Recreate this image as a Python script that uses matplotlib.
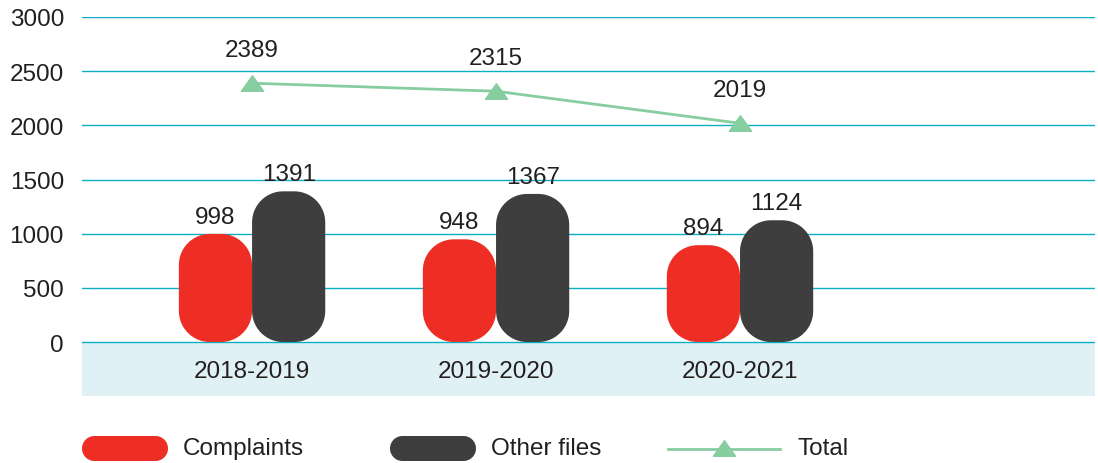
import numpy as np
import matplotlib
matplotlib.use("Agg")
import matplotlib.pyplot as plt
from matplotlib.patches import Polygon
from matplotlib.lines import Line2D
from matplotlib.path import Path

plt.rcParams["font.family"] = ["Liberation Sans", "DejaVu Sans"]

# Data
years = ["2018-2019", "2019-2020", "2020-2021"]
complaints = [998, 948, 894]
other_files = [1391, 1367, 1124]
total = [2389, 2315, 2019]
y_ticks = [0, 500, 1000, 1500, 2000, 2500, 3000]

RED = "#EE2E24"
DARK = "#3E3E3E"
GREEN = "#86CDA0"
GRID = "#0AAFC2"
BAND = "#E0F1F5"
TEXT = "#231F20"
FS = 17.5

W, H = 1098, 464
fig = plt.figure(figsize=(W / 100, H / 100), dpi=100)
ax = fig.add_axes([82 / W, 1 - 397.2 / H, (1095 - 82) / W, (397.2 - 18) / H])
ax.set_xlim(-0.697, 3.455)
ax.set_ylim(-500, 3000)
for s in ax.spines.values():
    s.set_visible(False)

# band under the zero line and horizontal grid
ax.axhspan(-500, 0, color=BAND, zorder=0, lw=0)
for t in y_ticks:
    ax.axhline(t, color=GRID, lw=1.0, zorder=1)

ax.set_yticks(y_ticks)
ax.set_yticklabels([str(t) for t in y_ticks], fontsize=FS, color=TEXT)
ax.tick_params(axis="y", length=0, pad=13)
ax.set_xticks([])

x = np.arange(len(years))
bw = 0.3


def rounded_path(x0, y0, w, h, rx, ry, n=16):
    rx = min(rx, w / 2)
    ry = min(ry, h / 2)
    pts = []
    corners = [
        (x0 + w - rx, y0 + h - ry, 0, 90),
        (x0 + rx, y0 + h - ry, 90, 180),
        (x0 + rx, y0 + ry, 180, 270),
        (x0 + w - rx, y0 + ry, 270, 360),
    ]
    for cx, cy, a0, a1 in corners:
        a = np.radians(np.linspace(a0, a1, n))
        pts.extend(zip(cx + rx * np.cos(a), cy + ry * np.sin(a)))
    return np.array(pts)


def px_to_data(px):
    inv = ax.transData.inverted()
    p0 = inv.transform((0, 0))
    p1 = inv.transform((px, px))
    return abs(p1[0] - p0[0]), abs(p1[1] - p0[1])


rx, ry = px_to_data(31)

bars_c = ax.bar(x - bw / 2, complaints, bw, color=RED)
bars_o = ax.bar(x + bw / 2, other_files, bw, color=DARK)
for bars, col in ((bars_c, RED), (bars_o, DARK)):
    for b in bars:
        b.set_visible(False)
        verts = rounded_path(b.get_x(), b.get_y(), b.get_width(), b.get_height(), rx, ry)
        ax.add_patch(Polygon(verts, closed=True, facecolor=col, edgecolor="none", zorder=2))
        ax.annotate(f"{int(b.get_height())}", (b.get_x() + b.get_width() / 2, b.get_height()),
                    xytext=(0, 12.5), textcoords="offset points", ha="center", va="center",
                    fontsize=FS, color=TEXT, zorder=4)

# total line with flat triangle markers
tri = Path([(-1, -0.7), (1, -0.7), (0, 0.7), (-1, -0.7)],
           [Path.MOVETO, Path.LINETO, Path.LINETO, Path.CLOSEPOLY])
ax.plot(x, total, color=GREEN, lw=2.0, marker=tri, markersize=16,
        markerfacecolor=GREEN, markeredgecolor=GREEN, zorder=3)
for xi, v in zip(x, total):
    ax.annotate(f"{v}", (xi, v), xytext=(0, 24), textcoords="offset points",
                ha="center", va="center", fontsize=FS, color=TEXT, zorder=4)

# category labels inside the band
for xi, lab in zip(x, years):
    ax.text(xi, -268, lab, ha="center", va="center", fontsize=FS, color=TEXT, zorder=4)


# legend drawn in pixel positions
def fig_pill(x0, x1, yc, h, col):
    r = h / 2
    verts = rounded_path(x0, yc - r, x1 - x0, h, r, r)
    verts[:, 0] /= W
    verts[:, 1] = 1 - verts[:, 1] / H
    fig.add_artist(Polygon(verts, closed=True, facecolor=col, edgecolor="none",
                           transform=fig.transFigure))


yl = 449.5
fig_pill(82, 168, yl, 25, RED)
fig.text(183 / W, 1 - yl / H, "Complaints", fontsize=FS, color=TEXT, va="center", ha="left")
fig_pill(390, 476, yl, 25, DARK)
fig.text(491 / W, 1 - yl / H, "Other files", fontsize=FS, color=TEXT, va="center", ha="left")
fig.add_artist(Line2D([668 / W, 780 / W], [1 - yl / H, 1 - yl / H], color=GREEN, lw=2.0,
                      transform=fig.transFigure))
fig.add_artist(Line2D([724 / W], [1 - (yl - 1) / H], color=GREEN, marker=tri, markersize=16,
                      markeredgecolor=GREEN, transform=fig.transFigure, lw=0))
fig.text(797 / W, 1 - yl / H, "Total", fontsize=FS, color=TEXT, va="center", ha="left")

fig.savefig("out.png", dpi=100)
